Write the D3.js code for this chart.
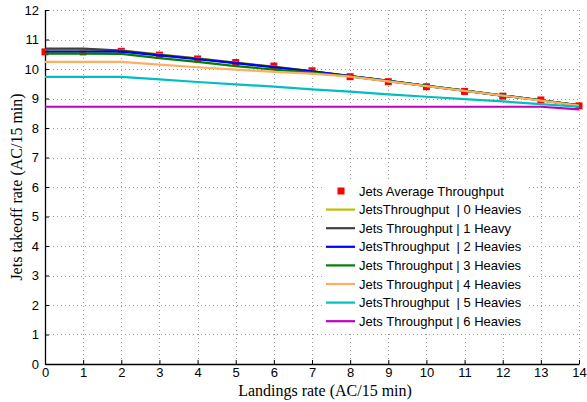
<!DOCTYPE html>
<html>
<head>
<meta charset="utf-8">
<script src="https://cdn.jsdelivr.net/npm/d3@7"></script>
<style>
  html, body { margin: 0; padding: 0; background: #fff; }
  svg { display: block; }
  .tick text { font-family: "Liberation Sans", Arial, sans-serif; font-size: 13px; fill: #000; }
  .axis-title { font-family: "Liberation Serif", "Times New Roman", serif; font-size: 16px; fill: #000; }
  .legend text { font-family: "Liberation Sans", Arial, sans-serif; font-size: 13px; fill: #000; white-space: pre; }
</style>
</head>
<body>
<svg id="chart" width="587" height="402"></svg>
<script>
// Landings rate on the x axis (AC/15 min)
const landings = [0, 1, 2, 3, 4, 5, 6, 7, 8, 9, 10, 11, 12, 13, 14];

// Average jets throughput (markers)
const averageThroughput = [10.58, 10.58, 10.6, 10.47, 10.34, 10.22, 10.1, 9.94, 9.74, 9.57, 9.4, 9.24, 9.08, 8.95, 8.75];

// Jets throughput by number of heavies
const heavies0 = [10.66, 10.66, 10.63, 10.5, 10.36, 10.22, 10.08, 9.93, 9.76, 9.6, 9.43, 9.27, 9.1, 8.94, 8.77];
const heavies1 = [10.69, 10.69, 10.62, 10.48, 10.35, 10.21, 10.07, 9.92, 9.76, 9.6, 9.43, 9.27, 9.1, 8.94, 8.77];
const heavies2 = [10.59, 10.59, 10.59, 10.46, 10.33, 10.2, 10.06, 9.92, 9.76, 9.6, 9.43, 9.27, 9.1, 8.94, 8.77];
const heavies3 = [10.52, 10.52, 10.51, 10.37, 10.24, 10.1, 9.98, 9.88, 9.75, 9.59, 9.43, 9.27, 9.1, 8.94, 8.77];
const heavies4 = [10.24, 10.24, 10.24, 10.15, 10.06, 9.98, 9.9, 9.84, 9.74, 9.58, 9.42, 9.26, 9.1, 8.93, 8.76];
const heavies5 = [9.73, 9.73, 9.73, 9.65, 9.56, 9.48, 9.4, 9.31, 9.23, 9.14, 9.06, 8.98, 8.9, 8.81, 8.72];
const heavies6 = [8.72, 8.72, 8.72, 8.72, 8.72, 8.72, 8.72, 8.72, 8.72, 8.72, 8.72, 8.72, 8.72, 8.72, 8.63];

const xTicks = [0, 1, 2, 3, 4, 5, 6, 7, 8, 9, 10, 11, 12, 13, 14];
const yTicks = [0, 1, 2, 3, 4, 5, 6, 7, 8, 9, 10, 11, 12];

const legendLabels = [
  "Jets Average Throughput",
  "JetsThroughput  | 0 Heavies",
  "Jets Throughput | 1 Heavy",
  "JetsThroughput  | 2 Heavies",
  "Jets Throughput | 3 Heavies",
  "Jets Throughput | 4 Heavies",
  "JetsThroughput  | 5 Heavies",
  "Jets Throughput | 6 Heavies"
];

const seriesList = [
  { values: heavies0, color: "#bfbf00" },
  { values: heavies1, color: "#404040" },
  { values: heavies2, color: "#0000ff" },
  { values: heavies3, color: "#008000" },
  { values: heavies4, color: "#ffad60" },
  { values: heavies5, color: "#00bfbf" },
  { values: heavies6, color: "#bf00bf" }
];
const markerColor = "#ff0000";

const svg = d3.select("#chart");
const plotLeft = 45, plotRight = 579, plotTop = 10, plotBottom = 364;

const x = d3.scaleLinear().domain([0, 14]).range([plotLeft, plotRight]);
const y = d3.scaleLinear().domain([0, 12]).range([plotBottom, plotTop]);

// Dotted grid
const grid = svg.append("g").attr("stroke", "#9a9a9a").attr("stroke-width", 1)
  .attr("stroke-dasharray", "1,3").attr("shape-rendering", "crispEdges");
grid.selectAll("line.v").data(xTicks.filter(d => d > 0)).join("line").attr("class", "v")
  .attr("x1", d => Math.round(x(d)) + 0.5).attr("x2", d => Math.round(x(d)) + 0.5)
  .attr("y1", plotTop).attr("y2", plotBottom);
grid.selectAll("line.h").data(yTicks.filter(d => d > 0)).join("line").attr("class", "h")
  .attr("y1", d => Math.round(y(d)) + 0.5).attr("y2", d => Math.round(y(d)) + 0.5)
  .attr("x1", plotLeft).attr("x2", plotRight);

// Axes
const xAxis = svg.append("g").attr("transform", `translate(0,${plotBottom})`)
  .call(d3.axisBottom(x).tickValues(xTicks).tickFormat(d3.format("d")).tickSizeInner(-4).tickSizeOuter(0).tickPadding(5));
const yAxis = svg.append("g").attr("transform", `translate(${plotLeft},0)`)
  .call(d3.axisLeft(y).tickValues(yTicks).tickFormat(d3.format("d")).tickSizeInner(-4).tickSizeOuter(0).tickPadding(6));
[xAxis, yAxis].forEach(a => {
  a.select(".domain").attr("stroke", "#000").attr("stroke-width", 1.3);
  a.selectAll(".tick line").attr("stroke", "#000");
});
xAxis.selectAll(".tick text").attr("dy", "0.6em");

// Average markers (under the lines)
svg.append("g").selectAll("rect").data(landings).join("rect")
  .attr("x", d => x(d) - 3.5).attr("y", (d, i) => y(averageThroughput[i]) - 3.5)
  .attr("width", 7).attr("height", 7).attr("fill", markerColor);

// Throughput lines
const line = d3.line().x((d, i) => x(landings[i])).y(d => y(d));
svg.append("g").selectAll("path").data(seriesList).join("path")
  .attr("d", s => line(s.values)).attr("fill", "none")
  .attr("stroke", s => s.color).attr("stroke-width", 2.2).attr("stroke-linejoin", "round");

// Axis titles
svg.append("text").attr("class", "axis-title").attr("x", (plotLeft + plotRight) / 2 + 13).attr("y", 396)
  .attr("text-anchor", "middle").text("Landings rate (AC/15 min)");
svg.append("text").attr("class", "axis-title")
  .attr("transform", `translate(22,${(plotTop + plotBottom) / 2}) rotate(-90)`)
  .attr("text-anchor", "middle").text("Jets takeoff rate (AC/15 min)");

// Legend
const legend = svg.append("g").attr("class", "legend");
legend.append("rect").attr("x", 322).attr("y", 180).attr("width", 205).attr("height", 151).attr("fill", "#fff");
const rowY = i => 191 + i * 18.6;
legendLabels.forEach((label, i) => {
  if (i === 0) {
    legend.append("rect").attr("x", 337.5).attr("y", rowY(i) - 3.5).attr("width", 7).attr("height", 7).attr("fill", markerColor);
  } else {
    legend.append("line").attr("x1", 326).attr("x2", 355).attr("y1", rowY(i)).attr("y2", rowY(i))
      .attr("stroke", seriesList[i - 1].color).attr("stroke-width", 2.2);
  }
  legend.append("text").attr("x", 359).attr("y", rowY(i)).attr("dy", "0.36em")
    .attr("xml:space", "preserve").text(label);
});
</script>
</body>
</html>
